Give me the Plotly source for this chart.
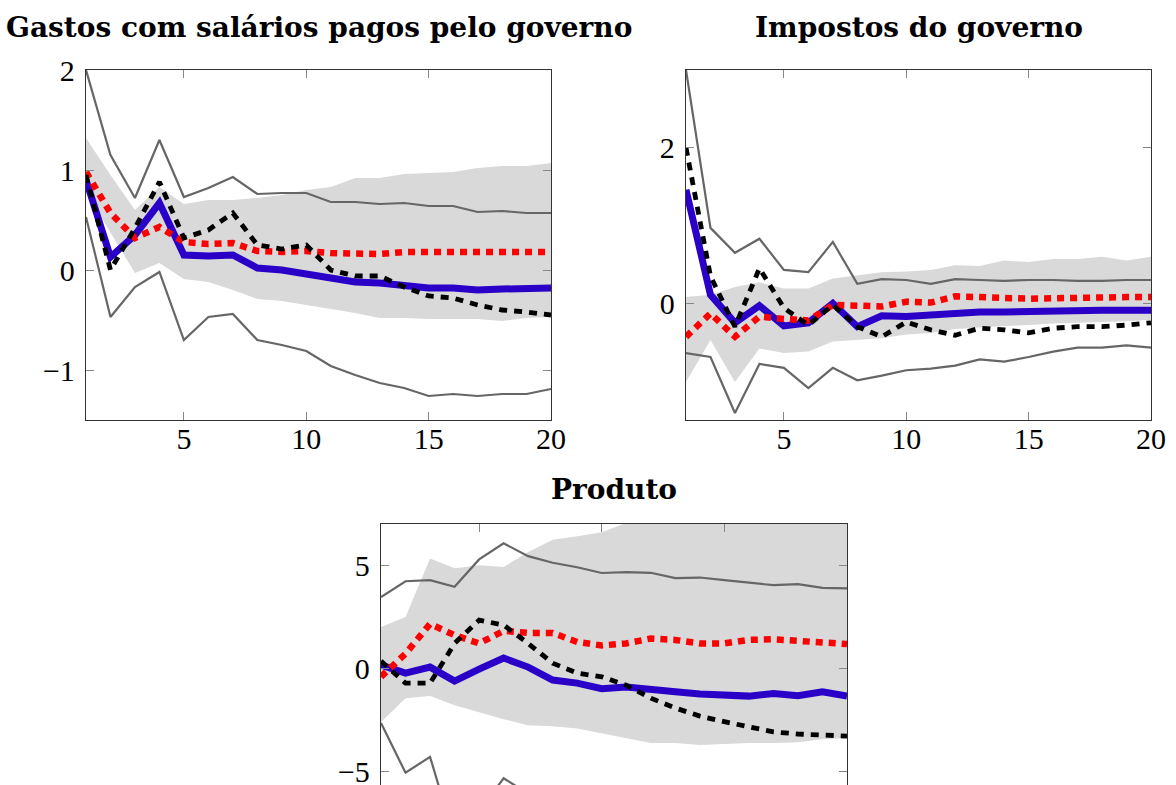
import plotly.graph_objects as go

x = list(range(1, 21))

# Panel 1: Gastos com salários pagos pelo governo
g_up = [2.00, 1.15, 0.72, 1.30, 0.73, 0.82, 0.93, 0.76, 0.77, 0.77, 0.68, 0.68, 0.66, 0.67, 0.64, 0.64, 0.58, 0.59, 0.57, 0.57]
g_lo = [0.53, -0.47, -0.17, -0.02, -0.70, -0.47, -0.44, -0.70, -0.75, -0.81, -0.96, -1.05, -1.13, -1.18, -1.26, -1.24, -1.26, -1.24, -1.24, -1.19]
g_bhi = [1.32, 0.95, 0.60, 0.83, 0.66, 0.70, 0.70, 0.72, 0.75, 0.80, 0.83, 0.92, 0.92, 0.96, 0.97, 0.98, 1.02, 1.04, 1.04, 1.07]
g_blo = [0.78, 0.37, -0.03, 0.07, -0.09, -0.12, -0.20, -0.29, -0.31, -0.35, -0.39, -0.43, -0.48, -0.48, -0.49, -0.49, -0.49, -0.51, -0.48, -0.47]
g_blue = [0.90, 0.13, 0.35, 0.67, 0.15, 0.14, 0.15, 0.02, 0.00, -0.04, -0.09, -0.12, -0.13, -0.16, -0.18, -0.18, -0.20, -0.19, -0.18, -0.18]
g_red = [0.98, 0.57, 0.32, 0.43, 0.28, 0.26, 0.27, 0.19, 0.18, 0.19, 0.17, 0.16, 0.16, 0.18, 0.18, 0.18, 0.18, 0.18, 0.18, 0.18]
g_blk = [0.95, 0.00, 0.42, 0.88, 0.32, 0.40, 0.57, 0.25, 0.21, 0.25, 0.00, -0.06, -0.06, -0.17, -0.26, -0.28, -0.35, -0.40, -0.42, -0.45]

# Panel 2: Impostos do governo
i_up = [3.00, 0.97, 0.65, 0.83, 0.43, 0.40, 0.79, 0.25, 0.31, 0.30, 0.25, 0.31, 0.30, 0.29, 0.30, 0.30, 0.29, 0.29, 0.30, 0.30]
i_lo = [-0.64, -0.69, -1.41, -0.78, -0.83, -1.09, -0.83, -0.99, -0.93, -0.86, -0.84, -0.80, -0.72, -0.75, -0.69, -0.62, -0.57, -0.57, -0.54, -0.57]
i_bhi = [0.08, 0.11, 0.21, 0.27, 0.19, 0.19, 0.32, 0.36, 0.40, 0.41, 0.43, 0.49, 0.48, 0.55, 0.53, 0.57, 0.57, 0.60, 0.55, 0.60]
i_blo = [-1.01, -0.47, -1.01, -0.58, -0.64, -0.62, -0.49, -0.47, -0.45, -0.40, -0.38, -0.33, -0.31, -0.29, -0.28, -0.26, -0.25, -0.24, -0.23, -0.21]
i_blue = [1.46, 0.11, -0.25, -0.03, -0.29, -0.25, 0.00, -0.30, -0.16, -0.17, -0.15, -0.12, -0.11, -0.11, -0.10, -0.10, -0.09, -0.09, -0.09, -0.09]
i_red = [-0.43, -0.13, -0.43, -0.17, -0.20, -0.22, -0.02, -0.03, -0.04, 0.02, 0.01, 0.09, 0.09, 0.07, 0.06, 0.07, 0.08, 0.09, 0.08, 0.08]
i_blk = [2.00, 0.35, -0.30, 0.45, -0.06, -0.28, -0.02, -0.30, -0.43, -0.24, -0.34, -0.41, -0.32, -0.34, -0.38, -0.32, -0.30, -0.30, -0.28, -0.25]

# Panel 3: Produto
p_up = [3.45, 4.22, 4.27, 3.95, 5.28, 6.06, 5.44, 5.12, 4.90, 4.62, 4.66, 4.63, 4.37, 4.40, 4.27, 4.14, 4.03, 4.08, 3.90, 3.87]
p_lo = [-2.67, -5.08, -4.31, -8.30, -6.95, -5.35, -6.10, -6.80, -7.10, -7.30, -7.60, -7.80, -8.00, -8.10, -8.20, -8.30, -8.30, -8.40, -8.40, -8.30]
p_bhi = [2.00, 2.48, 5.33, 4.85, 5.00, 4.91, 5.64, 6.24, 6.41, 6.60, 7.05, 7.30, 7.50, 7.60, 7.70, 7.80, 7.80, 7.90, 7.90, 8.00]
p_blo = [-2.62, -1.46, -1.36, -1.80, -2.14, -2.48, -2.77, -2.82, -2.93, -3.16, -3.40, -3.64, -3.64, -3.74, -3.69, -3.64, -3.64, -3.60, -3.45, -3.40]
p_blue = [0.15, -0.24, 0.05, -0.63, -0.05, 0.49, 0.05, -0.58, -0.73, -1.00, -0.92, -1.07, -1.15, -1.26, -1.33, -1.36, -1.23, -1.34, -1.15, -1.36]
p_red = [-0.42, 0.70, 2.15, 1.60, 1.20, 1.81, 1.71, 1.71, 1.27, 1.10, 1.20, 1.44, 1.37, 1.20, 1.20, 1.37, 1.40, 1.33, 1.20, 1.17]
p_blk = [0.34, -0.73, -0.73, 1.20, 2.33, 2.09, 1.20, 0.24, -0.24, -0.42, -0.83, -1.46, -1.94, -2.33, -2.60, -2.87, -3.10, -3.20, -3.25, -3.30]

titles = ["Gastos com salários pagos pelo governo", "Impostos do governo", "Produto"]

BAND = "#d9d9d9"
GRAY = "#666666"
BLUE = "#2a00c8"
RED = "#ff0000"
BLACK = "#000000"

fig = go.Figure()

panels = [
    ("x", "y", g_up, g_lo, g_bhi, g_blo, g_blue, g_red, g_blk),
    ("x2", "y2", i_up, i_lo, i_bhi, i_blo, i_blue, i_red, i_blk),
    ("x3", "y3", p_up, p_lo, p_bhi, p_blo, p_blue, p_red, p_blk),
]

for xa, ya, up, lo, bhi, blo, blue, red, blk in panels:
    fig.add_trace(go.Scatter(x=x, y=bhi, xaxis=xa, yaxis=ya, mode="lines",
                             line=dict(width=0, color=BAND), hoverinfo="skip"))
    fig.add_trace(go.Scatter(x=x, y=blo, xaxis=xa, yaxis=ya, mode="lines",
                             line=dict(width=0, color=BAND), fill="tonexty",
                             fillcolor=BAND, hoverinfo="skip"))
    fig.add_trace(go.Scatter(x=x, y=up, xaxis=xa, yaxis=ya, mode="lines",
                             line=dict(width=2.2, color=GRAY)))
    fig.add_trace(go.Scatter(x=x, y=lo, xaxis=xa, yaxis=ya, mode="lines",
                             line=dict(width=2.2, color=GRAY)))
    fig.add_trace(go.Scatter(x=x, y=blue, xaxis=xa, yaxis=ya, mode="lines",
                             line=dict(width=7, color=BLUE)))
    fig.add_trace(go.Scatter(x=x, y=red, xaxis=xa, yaxis=ya, mode="lines",
                             line=dict(width=6.5, color=RED, dash="7px,6px")))
    fig.add_trace(go.Scatter(x=x, y=blk, xaxis=xa, yaxis=ya, mode="lines",
                             line=dict(width=4.8, color=BLACK, dash="8px,7px")))

W, H = 1176, 785
tickfont = dict(family="Liberation Serif", size=30, color="black")

def xdom(l, r):
    return [l / W, r / W]

def ydom(t, b):
    return [1 - b / H, 1 - t / H]

common = dict(showline=True, linecolor="#333", linewidth=1.4, ticks="inside",
              ticklen=8, tickcolor="#888", tickwidth=1.2, showgrid=False,
              zeroline=False, tickfont=tickfont, automargin=False,
              ticklabeloverflow="allow")

XSO = -8
YSO = 4

# bottom panel pixel geometry: top at 524, 20.59 px per unit, cut at window bottom
p_top_px = 524
p_scale = 350 / 17.0
p_ymin = 7 - (H - p_top_px) / p_scale

fig.update_layout(
    width=W, height=H,
    margin=dict(l=0, r=0, t=0, b=0, autoexpand=False),
    paper_bgcolor="white", plot_bgcolor="white",
    showlegend=False,
    xaxis=dict(domain=xdom(86, 551), range=[1, 20], tickvals=[5, 10, 15, 20],
               anchor="y", mirror="ticks", ticklabelstandoff=XSO, **common),
    yaxis=dict(domain=ydom(70, 420), range=[-1.5, 2], tickvals=[-1, 0, 1, 2],
               anchor="x", mirror="ticks", ticklabelstandoff=YSO, **common),
    xaxis2=dict(domain=xdom(686, 1151), range=[1, 20], tickvals=[5, 10, 15, 20],
                anchor="y2", mirror="ticks", ticklabelstandoff=XSO, **common),
    yaxis2=dict(domain=ydom(70, 420), range=[-1.5, 3], tickvals=[0, 2],
                anchor="x2", mirror="ticks", ticklabelstandoff=YSO, **common),
    xaxis3=dict(domain=xdom(381, 847), range=[1, 20], tickvals=[5, 10, 15, 20],
                anchor="y3", side="top", showticklabels=False, **common),
    yaxis3=dict(domain=[0, 1 - p_top_px / H], range=[p_ymin, 7], tickvals=[-5, 0, 5],
                anchor="x3", mirror="ticks", ticklabelstandoff=YSO, **common),
)

title_font = dict(family="DejaVu Serif", size=28, color="black")
fig.add_annotation(text="<b>" + titles[0] + "</b>", x=(86 + 551) / 2 / W, y=1 - 28 / H,
                   xref="paper", yref="paper", showarrow=False, font=title_font,
                   xanchor="center", yanchor="middle")
fig.add_annotation(text="<b>" + titles[1] + "</b>", x=(686 + 1151) / 2 / W, y=1 - 28 / H,
                   xref="paper", yref="paper", showarrow=False, font=title_font,
                   xanchor="center", yanchor="middle")
fig.add_annotation(text="<b>" + titles[2] + "</b>", x=(381 + 847) / 2 / W, y=1 - 489 / H,
                   xref="paper", yref="paper", showarrow=False, font=title_font,
                   xanchor="center", yanchor="middle")

fig.write_html("out.html")
